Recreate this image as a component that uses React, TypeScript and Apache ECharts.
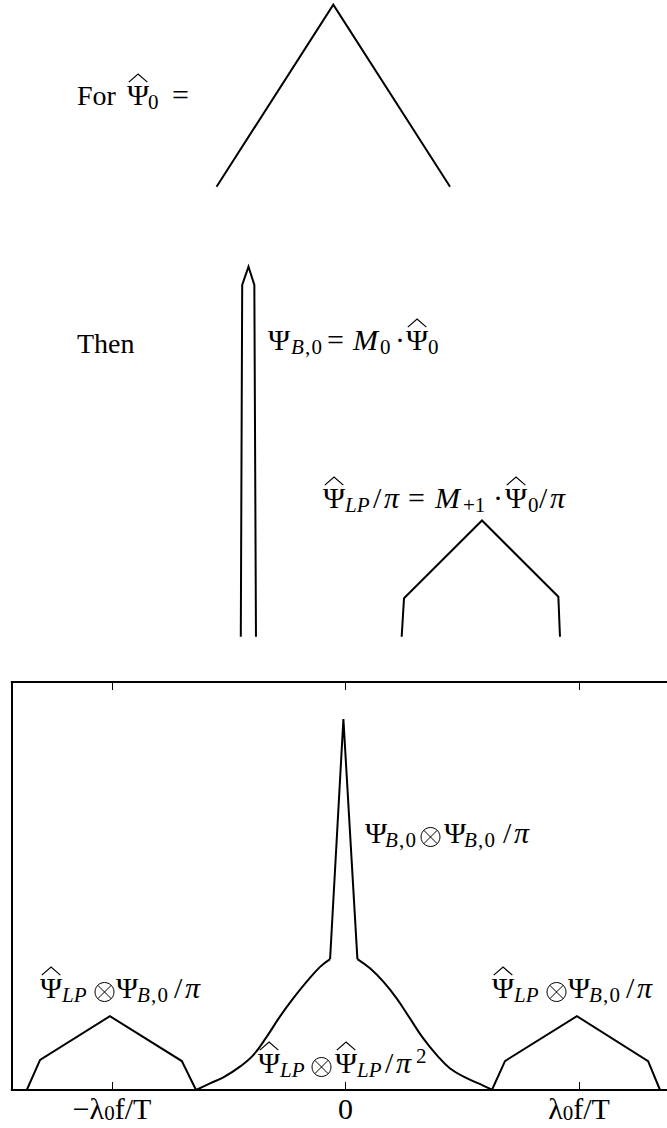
import React, { useEffect, useRef } from 'react';
import * as echarts from 'echarts';

// ---------- data ----------
// top panel: \hat\Psi_0
const triangleX = [-0.5, 0, 0.5];
const triangleY = [0, 1, 0];

// middle panel: Psi_B,0 (narrow spike) and \hat\Psi_LP/pi (hump)
const spikeX = [-0.033, -0.027, 0.0, 0.025, 0.032];
const spikeY = [0, 0.951, 1.0, 0.951, 0];
const humpX = [0.656, 0.666, 1.0, 1.327, 1.334];
const humpY = [0, 0.104, 0.314, 0.108, 0];

// bottom panel: convolution products
const leftHumpX = [-1.365, -1.308, -1.009, -0.701, -0.64];
const leftHumpY = [0, 0.081, 0.199, 0.078, 0];
const bellLeftX = [-0.64, -0.58, -0.523, -0.452, -0.395, -0.337, -0.281, -0.224, -0.166, -0.109, -0.066];
const bellLeftY = [0, 0.018, 0.034, 0.063, 0.094, 0.144, 0.198, 0.247, 0.292, 0.332, 0.353];
const centerSpikeX = [-0.066, -0.009, 0.051];
const centerSpikeY = [0.353, 1.0, 0.353];
const bellRightX = [0.051, 0.105, 0.162, 0.219, 0.276, 0.333, 0.391, 0.448, 0.519, 0.59, 0.63];
const bellRightY = [0.353, 0.328, 0.292, 0.247, 0.193, 0.139, 0.094, 0.058, 0.032, 0.012, 0];
const rightHumpX = [0.627, 0.683, 0.991, 1.296, 1.347];
const rightHumpY = [0, 0.078, 0.199, 0.078, 0];

// x ticks of the bottom panel
const tickValues = [-1, 0, 1];
const tickMain = ['−λ', '0', 'λ'];
const tickSub = ['0', '', '0'];
const tickTail = ['f/T', '', 'f/T'];

// ---------- text helpers ----------
const FAMILY = 'Liberation Serif';
const TEXT = 28;
const MAIN = 30;
const SUB = 21;
const SUB_DROP = 4;
const SUP_RISE = 10;
const CENTRAL = 0.3375;

type Piece = {
  t: string; at?: number; sub?: boolean; sup?: boolean; it?: boolean; hat?: boolean; otimes?: boolean; plain?: boolean;
};

let measureCtx: CanvasRenderingContext2D | null = null;
function measure(text: string, size: number, italic: boolean): number {
  if (!measureCtx) measureCtx = document.createElement('canvas').getContext('2d');
  if (!measureCtx) return text.length * size * 0.5;
  measureCtx.font = `${italic ? 'italic ' : ''}${size}px "${FAMILY}"`;
  return measureCtx.measureText(text).width;
}

function buildLabel(x0: number, base: number, pieces: Piece[]) {
  const children: any[] = [];
  let x = x0;
  for (const p of pieces) {
    if (p.at !== undefined) x = x0 + p.at;
    if (p.otimes) {
      const r = 9.5;
      const cx = x + r;
      const cy = base - 6;
      const d = r * 0.7071;
      children.push({ type: 'circle', silent: true, shape: { cx, cy, r }, style: { stroke: '#000', lineWidth: 1, fill: 'none' } });
      children.push({ type: 'line', silent: true, shape: { x1: cx - d, y1: cy - d, x2: cx + d, y2: cy + d }, style: { stroke: '#000', lineWidth: 1 } });
      children.push({ type: 'line', silent: true, shape: { x1: cx - d, y1: cy + d, x2: cx + d, y2: cy - d }, style: { stroke: '#000', lineWidth: 1 } });
      x += 2 * r;
      continue;
    }
    const size = p.plain ? TEXT : p.sub || p.sup ? SUB : MAIN;
    const b = base + (p.sub ? SUB_DROP : 0) - (p.sup ? SUP_RISE : 0);
    const w = measure(p.t, size, !!p.it);
    children.push({
      type: 'text',
      x,
      y: b - CENTRAL * size,
      silent: true,
      style: {
        text: p.t,
        fontSize: size,
        fontFamily: FAMILY,
        fontStyle: p.it ? 'italic' : 'normal',
        fill: '#000',
        align: 'left',
        verticalAlign: 'middle',
      },
    });
    if (p.hat) {
      const top = b - 0.662 * size;
      children.push({
        type: 'polyline',
        silent: true,
        shape: { points: [[x + 0.08 * w, top - 3], [x + 0.5 * w, top - 11], [x + 0.92 * w, top - 3]] },
        style: { stroke: '#000', lineWidth: 1.2, fill: 'none' },
      });
    }
    x += w;
  }
  return { type: 'group', children };
}

// subscript "B,0" laid out from offset a
const subB0 = (a: number): Piece[] => [
  { t: 'B', sub: true, it: true, at: a },
  { t: ',', sub: true, at: a + 14 },
  { t: '0', sub: true, at: a + 20.5 },
];

const zip = (xs: number[], ys: number[]) => xs.map((x, i) => [x, ys[i]]);

const lineSeries = (data: number[][], axis: number, smooth: number | boolean = false) => ({
  type: 'line',
  xAxisIndex: axis,
  yAxisIndex: axis,
  data,
  showSymbol: false,
  symbol: 'none',
  clip: false,
  silent: true,
  smooth,
  lineStyle: { color: '#000', width: 2, join: 'miter', miterLimit: 4 },
});

const PX = 233.5; // pixels per x unit

// label with \hat\Psi_LP (x) Psi_B,0 / pi
const lpBLabel = (x: number, base: number) =>
  buildLabel(x, base, [
    { t: 'Ψ', hat: true, at: 0 }, { t: 'LP', sub: true, it: true, at: 22 },
    { t: '⊗', otimes: true, at: 55 },
    { t: 'Ψ', at: 76 }, ...subB0(97),
    { t: '/', at: 134 }, { t: 'π', it: true, at: 145 },
  ]);

export default function App() {
  const ref = useRef<HTMLDivElement>(null);
  useEffect(() => {
    if (!ref.current) return;
    const chart = echarts.init(ref.current, undefined, { renderer: 'svg' });
    const hidden = (grid: number, min: number, max: number) => ({
      type: 'value', gridIndex: grid, min, max, show: false,
    });
    const frameLine = { show: true, onZero: false, lineStyle: { color: '#000', width: 2 } };
    const ticks = { show: true, inside: true, length: 8, customValues: tickValues, lineStyle: { color: '#000', width: 1 } };
    const option: any = {
      animation: false,
      backgroundColor: '#fff',
      grid: [
        { left: 333.3 - 1.43 * PX, width: 2.86 * PX, top: 4.7, height: 182, outerBoundsMode: 'none' },
        { left: 248.5 - 1.06 * PX, width: 2.86 * PX, top: 266.7, height: 370, outerBoundsMode: 'none' },
        { left: 345.5 - 1.43 * PX, width: 2.86 * PX, top: 682, height: 408, outerBoundsMode: 'none' },
      ],
      xAxis: [
        hidden(0, -1.43, 1.43),
        hidden(1, -1.06, 1.8),
        {
          type: 'value', gridIndex: 2, min: -1.43, max: 1.43, position: 'bottom',
          axisLine: frameLine,
          splitLine: { show: false },
          axisTick: ticks,
          axisLabel: {
            show: true,
            customValues: tickValues,
            margin: 3,
            formatter: (v: number) => {
              const i = tickValues.indexOf(v);
              if (i < 0) return '';
              let s = `{m|${tickMain[i]}}`;
              if (tickSub[i]) s += `{s|${tickSub[i]}}`;
              if (tickTail[i]) s += `{m|${tickTail[i]}}`;
              return s;
            },
            rich: {
              m: { fontSize: MAIN, fontFamily: FAMILY, color: '#000', lineHeight: 30 },
              s: { fontSize: SUB, fontFamily: FAMILY, color: '#000', lineHeight: 16, verticalAlign: 'bottom' },
            },
          },
        },
        {
          type: 'value', gridIndex: 2, min: -1.43, max: 1.43, position: 'top',
          axisLine: frameLine,
          splitLine: { show: false },
          axisTick: ticks,
          axisLabel: { show: false },
        },
      ],
      yAxis: [
        hidden(0, 0, 1),
        hidden(1, 0, 1),
        {
          type: 'value', gridIndex: 2, min: 0, max: 1.1, position: 'left',
          axisLine: frameLine,
          axisTick: { show: false },
          axisLabel: { show: false },
          splitLine: { show: false },
        },
      ],
      series: [
        lineSeries(zip(triangleX, triangleY), 0),
        lineSeries(zip(spikeX, spikeY), 1),
        lineSeries(zip(humpX, humpY), 1),
        lineSeries(zip(leftHumpX, leftHumpY), 2),
        lineSeries(zip(bellLeftX, bellLeftY), 2, 0.4),
        lineSeries(zip(centerSpikeX, centerSpikeY), 2),
        lineSeries(zip(bellRightX, bellRightY), 2, 0.4),
        lineSeries(zip(rightHumpX, rightHumpY), 2),
      ],
      graphic: [
        buildLabel(77, 105, [
          { t: 'For', plain: true },
          { t: 'Ψ', hat: true, at: 50 },
          { t: '0', sub: true, at: 71 },
          { t: '=', at: 95 },
        ]),
        buildLabel(77, 353, [{ t: 'Then', plain: true }]),
        buildLabel(268, 350, [
          { t: 'Ψ', at: 0 }, ...subB0(23),
          { t: '=', at: 59 },
          { t: 'M', it: true, at: 85 }, { t: '0', sub: true, at: 112 },
          { t: '·', at: 127 },
          { t: 'Ψ', hat: true, at: 138 }, { t: '0', sub: true, at: 160 },
        ]),
        buildLabel(323, 508, [
          { t: 'Ψ', hat: true, at: 0 }, { t: 'LP', sub: true, it: true, at: 22 }, { t: '/', at: 50 }, { t: 'π', it: true, at: 61 },
          { t: '=', at: 85 },
          { t: 'M', it: true, at: 112 }, { t: '+1', sub: true, at: 140 },
          { t: '·', at: 170 },
          { t: 'Ψ', hat: true, at: 182 }, { t: '0', sub: true, at: 205 }, { t: '/', at: 216 }, { t: 'π', it: true, at: 227 },
        ]),
        buildLabel(365, 843, [
          { t: 'Ψ', at: 0 }, ...subB0(20),
          { t: '⊗', otimes: true, at: 56 },
          { t: 'Ψ', at: 79 }, ...subB0(99),
          { t: '/', at: 138 }, { t: 'π', it: true, at: 149 },
        ]),
        lpBLabel(40, 998),
        lpBLabel(492, 998),
        buildLabel(258, 1073, [
          { t: 'Ψ', hat: true, at: 0 }, { t: 'LP', sub: true, it: true, at: 22 },
          { t: '⊗', otimes: true, at: 54 },
          { t: 'Ψ', hat: true, at: 77 }, { t: 'LP', sub: true, it: true, at: 99 },
          { t: '/', at: 127 }, { t: 'π', it: true, at: 138 }, { t: '2', sup: true, at: 158 },
        ]),
      ],
    };
    chart.setOption(option);
    return () => chart.dispose();
  }, []);
  return (
    <div
      ref={ref}
      style={{ position: 'absolute', left: 0, top: 0, width: 667, height: 1128, background: '#fff' }}
    />
  );
}
